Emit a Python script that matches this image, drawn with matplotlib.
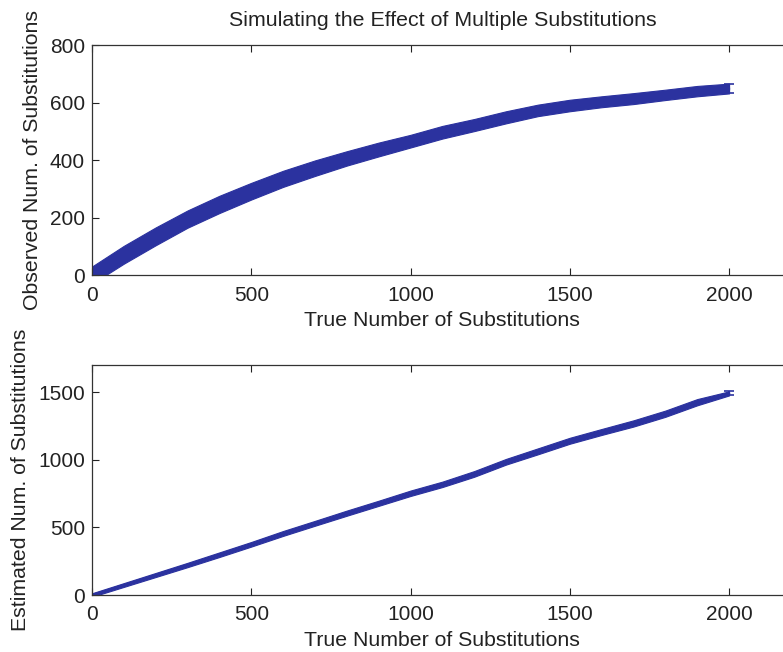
import numpy as np
import matplotlib
matplotlib.use("Agg")
import matplotlib.pyplot as plt

# true number of substitutions at which the simulation was sampled
true_subs = [0, 100, 200, 300, 400, 500, 600, 700, 800, 900, 1000,
             1100, 1200, 1300, 1400, 1500, 1600, 1700, 1800, 1900, 2000]

# observed (raw) differences, mean and half spread across runs
observed = [0, 71, 135, 195, 246, 292, 335, 372, 406, 437, 466,
            497, 522, 549, 573, 590, 603, 614, 627, 640, 649]
observed_err = [30, 31, 31, 30, 30, 29, 28, 27, 25, 24, 22,
                22, 21, 21, 20, 20, 19, 19, 18, 18, 17]

# corrected estimate, mean and half spread across runs
estimated = [0, 74, 148, 222, 298, 375, 455, 530, 605, 678, 752,
             818, 895, 985, 1062, 1140, 1205, 1268, 1340, 1425, 1490]
estimated_err = [13, 14, 15, 16, 17, 17, 18, 18, 19, 19, 20,
                 20, 21, 21, 22, 22, 22, 23, 23, 23, 15]

blue = '#2b329f'
ink = '#222222'

plt.rcParams.update({
    'font.family': ['Liberation Sans', 'DejaVu Sans'],
    'font.size': 15,
    'text.color': ink,
    'axes.labelcolor': ink,
    'xtick.color': ink,
    'ytick.color': ink,
    'axes.edgecolor': '#333333',
})

fig = plt.figure(figsize=(7.83, 6.52), dpi=100)
ax1 = fig.add_axes([0.1175, 0.578, 0.895, 0.3528])
ax2 = fig.add_axes([0.1175, 0.0874, 0.895, 0.3528])


def draw_band(ax, x, y, err):
    x = np.asarray(x)
    y = np.asarray(y)
    err = np.asarray(err)
    ax.fill_between(x, y - err, y + err, color=blue, lw=0.8, edgecolor=blue)
    ax.plot(x, y, color=blue, lw=1.5)
    ax.errorbar(x[-1], y[-1], yerr=err[-1], color=blue, capsize=3.6,
                elinewidth=1.2, capthick=1.2)


draw_band(ax1, true_subs, observed, observed_err)
draw_band(ax2, true_subs, estimated, estimated_err)

ax1.set_xlim(0, 2200)
ax1.set_ylim(0, 800)
ax1.set_yticks([0, 200, 400, 600, 800])
ax2.set_xlim(0, 2200)
ax2.set_ylim(0, 1700)
ax2.set_yticks([0, 500, 1000, 1500])

for ax in (ax1, ax2):
    ax.set_xticks([0, 500, 1000, 1500, 2000])
    ax.tick_params(direction='in', top=True, right=True, length=5,
                   width=0.8, labelsize=15)
    ax.tick_params(axis='x', pad=7.5)
    ax.tick_params(axis='y', pad=5)
    ax.set_xlabel('True Number of Substitutions', fontsize=15.3, labelpad=4.5)
    for s in ax.spines.values():
        s.set_linewidth(0.9)

ax1.set_ylabel('Observed Num. of Substitutions', fontsize=15.3, labelpad=6)
ax2.set_ylabel('Estimated Num. of Substitutions', fontsize=15.3, labelpad=6)
ax1.set_title('Simulating the Effect of Multiple Substitutions',
              fontsize=15.4, pad=13.5)

fig.savefig('out.png', dpi=100, facecolor='white')
